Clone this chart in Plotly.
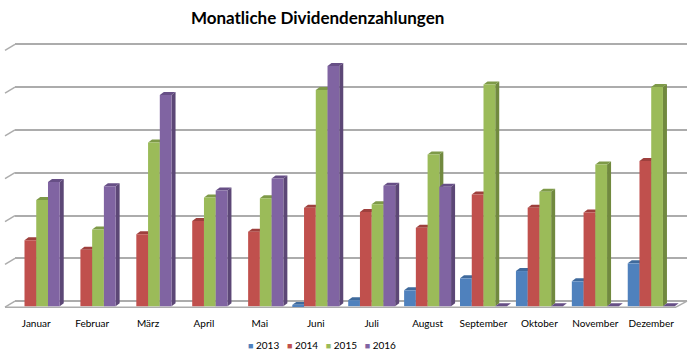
import plotly.graph_objects as go

months = ["Januar", "Februar", "März", "April", "Mai", "Juni", "Juli",
          "August", "September", "Oktober", "November", "Dezember"]
years = ["2013", "2014", "2015", "2016"]
v2013 = [None, None, None, None, None, 0.03, 0.14, 0.37, 0.65, 0.82, 0.58, 1.00]
v2014 = [1.54, 1.32, 1.68, 1.99, 1.74, 2.30, 2.20, 1.83, 2.61, 2.30, 2.19, 3.39]
v2015 = [2.48, 1.79, 3.82, 2.54, 2.52, 5.05, 2.38, 3.54, 5.18, 2.67, 3.31, 5.12]
v2016 = [2.90, 2.80, 4.93, 2.70, 2.98, 5.61, 2.81, 2.79, 0, 0, 0, 0]
series = [v2013, v2014, v2015, v2016]
front = ["#4F81BD", "#C0504D", "#9BBB59", "#8064A2"]
side = ["#385D8A", "#8C3836", "#71893F", "#5C4776"]
top = ["#3F6A9C", "#9E403D", "#7E9A48", "#674F86"]

FONT = "Lato"
BARGAP = 0.16
W = (1 - BARGAP) / 4
DX = 0.0716   # depth in x (category units)
DY = 0.07     # depth in y
SHIFT = 0.117  # bars sit on the front edge of the floor (y2 = y + SHIFT)
YMAX = 6.03

fig = go.Figure()
for k, vals in enumerate(series):
    fig.add_trace(go.Bar(x=months, y=vals, name=years[k], yaxis="y2",
                         marker=dict(color=front[k], line=dict(width=0)),
                         showlegend=False))

shapes = []
for i in range(len(months)):
    for k, vals in enumerate(series):
        v = vals[i]
        if v is None:
            continue
        xl = i - (1 - BARGAP) / 2 + k * W
        xr = xl + W
        b = -SHIFT
        t = v - SHIFT
        if v > 0:
            shapes.append(dict(type="path", xref="x", yref="y", layer="between",
                               path=f"M {xr},{b} L {xr+DX},{b+DY} L {xr+DX},{t+DY} L {xr},{t} Z",
                               fillcolor=side[k], line=dict(width=0)))
        shapes.append(dict(type="path", xref="x", yref="y", layer="between",
                           path=f"M {xl},{t} L {xr},{t} L {xr+DX},{t+DY} L {xl+DX},{t+DY} Z",
                           fillcolor=top[k], line=dict(width=0)))

# wall / floor decoration
grid_vals = [0, 1, 2, 3, 4, 5, 6]
GRID = "#acacac"
for g in grid_vals:
    shapes.append(dict(type="line", xref="paper", yref="y", x0=0, y0=g,
                       x1=-0.0149, y1=g - 0.14, line=dict(color=GRID, width=1.5),
                       layer="below"))
shapes.append(dict(type="line", xref="paper", yref="y", x0=-0.0149, y0=-0.14,
                   x1=0.9836, y1=-0.14, line=dict(color=GRID, width=1.5), layer="below"))
shapes.append(dict(type="line", xref="paper", yref="y", x0=1.0, y0=0,
                   x1=0.9836, y1=-0.14, line=dict(color=GRID, width=1.5), layer="below"))

# legend (Excel style: small square right next to the label)
legend_text = "   ".join(
    f"<span style='color:{c};font-size:9px'>■</span> {y}" for y, c in zip(years, front))

fig.update_layout(
    width=695, height=354,
    margin=dict(l=15, r=8, t=43, b=46, autoexpand=False),
    paper_bgcolor="white", plot_bgcolor="white",
    barmode="group", bargap=BARGAP, bargroupgap=0,
    title=dict(text="<b>Monatliche Dividendenzahlungen</b>", x=0.457, xanchor="center",
               y=0.95, yanchor="middle", font=dict(family=FONT, size=17, color="black")),
    font=dict(family=FONT, size=10, color="black"),
    xaxis=dict(range=[-0.38, 11.64], showgrid=False, zeroline=False, showline=False,
               ticks="", tickfont=dict(family=FONT, size=10, color="black"),
               ticklabelstandoff=8),
    yaxis=dict(range=[-0.16, YMAX], tickvals=grid_vals, showticklabels=False,
               showgrid=True, gridcolor=GRID, gridwidth=1.5, zeroline=False,
               showline=False, fixedrange=True),
    yaxis2=dict(range=[-0.16 + SHIFT, YMAX + SHIFT], overlaying="y", visible=False,
                showgrid=False),
    annotations=[dict(text=legend_text, xref="paper", yref="paper",
                      x=(322 - 15) / 672, y=-0.14, xanchor="center", yanchor="middle",
                      showarrow=False, font=dict(family=FONT, size=10, color="black"))],
    shapes=shapes,
    showlegend=False,
)

fig.write_html("out.html")
